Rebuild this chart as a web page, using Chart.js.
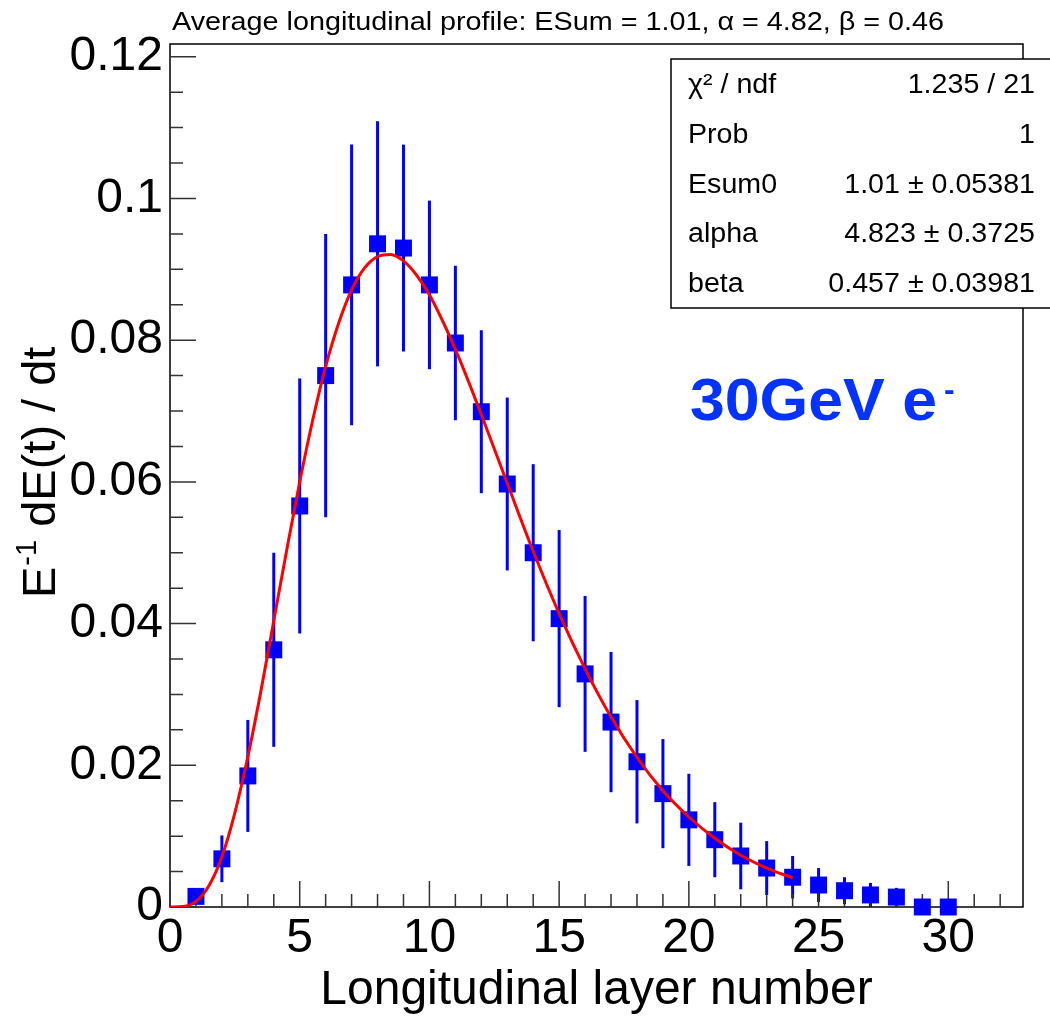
<!DOCTYPE html>
<html>
<head>
<meta charset="utf-8">
<script src="https://cdn.jsdelivr.net/npm/chart.js@4.4.1/dist/chart.umd.min.js"></script>
<style>
  html, body { margin: 0; padding: 0; background: #fff; }
  #wrap { width: 1050px; height: 1018px; }
</style>
</head>
<body>
<div id="wrap"><canvas id="profile"></canvas></div>
<script>
// layer number and mean energy fraction per layer
var layers = [1, 2, 3, 4, 5, 6, 7, 8, 9, 10, 11, 12, 13, 14, 15, 16, 17, 18, 19, 20, 21, 22, 23, 24, 25, 26, 27, 28, 29, 30];
var energy = [0.0015, 0.0068, 0.0185, 0.0363, 0.0566, 0.0750, 0.0878, 0.0936, 0.0930, 0.0878,
              0.0796, 0.0699, 0.0597, 0.0500, 0.0407, 0.0329, 0.0261, 0.0205, 0.0160, 0.0123,
              0.0095, 0.0072, 0.0055, 0.0042, 0.0031, 0.0023, 0.0017, 0.0014, 0.0000, 0.0000];
var errors = [0.0010, 0.0033, 0.0079, 0.0137, 0.0180, 0.0200, 0.0198, 0.0173, 0.0146, 0.0119,
              0.0109, 0.0115, 0.0122, 0.0125, 0.0125, 0.0110, 0.0099, 0.0087, 0.0077, 0.0065,
              0.0053, 0.0047, 0.0038, 0.0030, 0.0024, 0.0019, 0.0017, 0.0013, 0, 0];

// gamma fit curve
var fitX = [0, 0.5, 1, 1.5, 2, 2.5, 3, 3.5, 4, 4.5, 5, 5.5, 6, 6.5, 7, 7.5, 8, 8.5, 9, 9.5, 10,
            11, 12, 13, 14, 15, 16, 17, 18, 19, 20, 21, 22, 23, 24];
var fitY = [0, 0.00007, 0.0008, 0.0030, 0.0071, 0.0133, 0.0212, 0.0304, 0.0404, 0.0504, 0.0600,
            0.0687, 0.0763, 0.0824, 0.0871, 0.0902, 0.0918, 0.0921, 0.0912, 0.0892, 0.0864,
            0.0787, 0.0695, 0.0598, 0.0502, 0.0414, 0.0336, 0.0268, 0.0211, 0.0164, 0.0127,
            0.0097, 0.0073, 0.0055, 0.0041];

var xTicks = [0, 5, 10, 15, 20, 25, 30];
var yTicks = [0, 0.02, 0.04, 0.06, 0.08, 0.1, 0.12];
var yTickLabels = ['0', '0.02', '0.04', '0.06', '0.08', '0.1', '0.12'];

var titleText = 'Average longitudinal profile: ESum = 1.01, \u03b1 = 4.82, \u03b2 = 0.46';
var statNames = ['\u03c7\u00b2 / ndf', 'Prob', 'Esum0', 'alpha', 'beta'];
var statValues = ['1.235 / 21', '1', '1.01 \u00b1 0.05381', '4.823 \u00b1 0.3725', '0.457 \u00b1 0.03981'];

var FONT = '"Liberation Sans", Arial, Helvetica, sans-serif';

// ROOT style frame with inward ticks, plus error bars
var frameAndErrors = {
  id: 'frameAndErrors',
  beforeDatasetsDraw: function(chart) {
    var ctx = chart.ctx, a = chart.chartArea;
    var xs = chart.scales.x, ys = chart.scales.y;
    ctx.save();

    ctx.strokeStyle = '#0000ff';
    ctx.lineWidth = 3;
    layers.forEach(function(l, i) {
      if (!errors[i]) return;
      var px = xs.getPixelForValue(l);
      ctx.beginPath();
      ctx.moveTo(px, ys.getPixelForValue(energy[i] + errors[i]));
      ctx.lineTo(px, ys.getPixelForValue(Math.max(0, energy[i] - errors[i])));
      ctx.stroke();
    });

    ctx.strokeStyle = '#000';
    ctx.lineWidth = 1.5;
    ctx.strokeRect(a.left, a.top, a.right - a.left, a.bottom - a.top);

    ctx.strokeStyle = '#333';
    ctx.lineWidth = 1.5;
    ctx.beginPath();
    for (var k = 0; k <= Math.floor(xs.max); k++) {
      var px = xs.getPixelForValue(k);
      ctx.moveTo(px, a.bottom);
      ctx.lineTo(px, a.bottom - (k % 5 === 0 ? 26 : 13));
    }
    for (var j = 0; j * 0.005 <= ys.max; j++) {
      var py = ys.getPixelForValue(j * 0.005);
      ctx.moveTo(a.left, py);
      ctx.lineTo(a.left + (j % 4 === 0 ? 26 : 13), py);
    }
    ctx.stroke();
    ctx.restore();
  }
};

// title, rotated y title, stats box and beam label
var overlay = {
  id: 'overlay',
  afterDraw: function(chart) {
    var ctx = chart.ctx;
    ctx.save();
    ctx.fillStyle = '#000';
    ctx.textBaseline = 'alphabetic';

    // top title
    ctx.font = '25px ' + FONT;
    var tw = ctx.measureText(titleText).width;
    ctx.save();
    ctx.translate(172, 30);
    ctx.scale(772 / tw, 1);
    ctx.textAlign = 'left';
    ctx.fillText(titleText, 0, 0);
    ctx.restore();

    // y axis title
    ctx.save();
    ctx.translate(55, 598);
    ctx.rotate(-Math.PI / 2);
    ctx.textAlign = 'left';
    ctx.font = '47px ' + FONT;
    ctx.fillText('E', 0, 0);
    var x0 = ctx.measureText('E').width;
    ctx.font = '29px ' + FONT;
    ctx.fillText('-1', x0 + 1, -19);
    x0 += ctx.measureText('-1').width + 1;
    ctx.font = '47px ' + FONT;
    ctx.fillText(' dE(t) / dt', x0, 0);
    ctx.restore();

    // stats box
    var bx = 671, by = 59, bw = 400, bh = 249, rowH = bh / statNames.length;
    ctx.fillStyle = '#fff';
    ctx.fillRect(bx, by, bw, bh);
    ctx.strokeStyle = '#000';
    ctx.lineWidth = 1.5;
    ctx.strokeRect(bx, by, bw, bh);
    ctx.fillStyle = '#000';
    ctx.font = '27px ' + FONT;
    var sx = 1.06;
    statNames.forEach(function(name, i) {
      var base = by + (i + 0.5) * rowH + 9;
      ctx.save();
      ctx.translate(688, base);
      ctx.scale(sx, 1);
      ctx.textAlign = 'left';
      ctx.fillText(name, 0, 0);
      ctx.restore();
      ctx.save();
      ctx.translate(1035, base);
      ctx.scale(sx, 1);
      ctx.textAlign = 'right';
      ctx.fillText(statValues[i], 0, 0);
      ctx.restore();
    });

    // beam label
    ctx.fillStyle = '#0433ff';
    ctx.font = 'bold 60px ' + FONT;
    var lw = ctx.measureText('30GeV e').width;
    ctx.save();
    ctx.translate(690, 420);
    ctx.scale(247 / lw, 1);
    ctx.textAlign = 'left';
    ctx.fillText('30GeV e', 0, 0);
    ctx.restore();
    ctx.font = 'bold 32px ' + FONT;
    ctx.textAlign = 'left';
    ctx.fillText('-', 944, 400);

    ctx.restore();
  }
};

var ctx = document.getElementById('profile').getContext('2d');
var profileChart = new Chart(ctx, {
  type: 'scatter',
  data: {
    datasets: [{
      type: 'line',
      label: 'fit',
      data: fitX.map(function(x, i) { return { x: x, y: fitY[i] }; }),
      borderColor: '#ff0000',
      borderWidth: 3,
      pointRadius: 0,
      fill: false,
      cubicInterpolationMode: 'monotone',
      order: 0
    }, {
      label: 'profile',
      data: layers.map(function(l, i) { return { x: l, y: energy[i] }; }),
      pointStyle: 'rect',
      pointRadius: 12,
      pointBorderWidth: 0,
      backgroundColor: '#0000ff',
      borderColor: '#0000ff',
      clip: false,
      order: 1
    }]
  },
  options: {
    responsive: true,
    maintainAspectRatio: false,
    animation: false,
    layout: { padding: { top: 44, right: 27, left: 0, bottom: 0 } },
    plugins: {
      legend: { display: false },
      tooltip: { enabled: false },
      title: { display: false }
    },
    scales: {
      x: {
        type: 'linear',
        min: 0,
        max: 32.88,
        afterBuildTicks: function(s) { s.ticks = xTicks.map(function(v) { return { value: v }; }); },
        afterFit: function(s) { s.height = 111; },
        grid: { display: false, drawTicks: false },
        border: { display: false },
        ticks: {
          padding: 3,
          color: '#000',
          maxRotation: 0,
          autoSkip: false,
          font: { family: FONT, size: 48 },
          callback: function(v) { return String(v); }
        },
        title: {
          display: true,
          text: 'Longitudinal layer number',
          color: '#000',
          padding: { top: 0, bottom: 3 },
          font: { family: FONT, size: 48, lineHeight: 1 }
        }
      },
      y: {
        type: 'linear',
        min: 0,
        max: 0.1218,
        afterBuildTicks: function(s) { s.ticks = yTicks.map(function(v) { return { value: v }; }); },
        afterFit: function(s) { s.width = 170; },
        grid: { display: false, drawTicks: false },
        border: { display: false },
        ticks: {
          padding: 7,
          color: '#000',
          autoSkip: false,
          font: { family: FONT, size: 48 },
          callback: function(v, i) { return yTickLabels[i]; }
        }
      }
    }
  },
  plugins: [frameAndErrors, overlay]
});
</script>
</body>
</html>
